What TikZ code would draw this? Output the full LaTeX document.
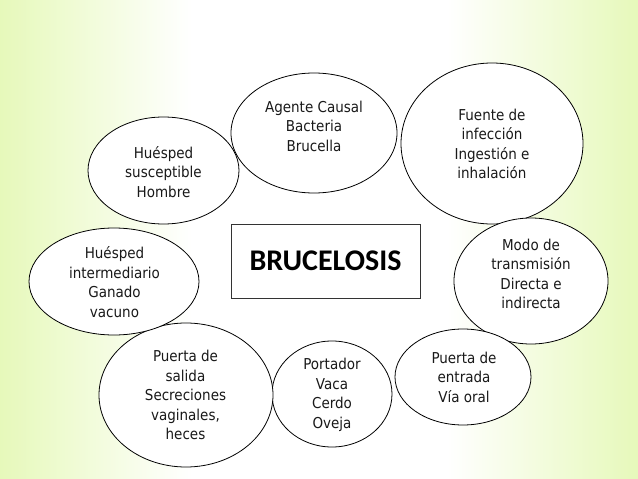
\documentclass[tikz,border=0pt]{standalone}
\usepackage{fontspec}
\setmainfont{DejaVu Sans Condensed}
\newfontfamily\titlefont{Carlito}
\usetikzlibrary{shapes.geometric}

\definecolor{limebg}{RGB}{196,240,92}
\pgfdeclarehorizontalshading{slidebg}{100bp}{color(0bp)=(limebg); color(8bp)=(limebg!90); color(24bp)=(limebg!45); color(40bp)=(white); color(60bp)=(white); color(76bp)=(limebg!45); color(92bp)=(limebg!90); color(100bp)=(limebg)}

\tikzset{bubble/.style={draw=black, line width=0.8pt, fill=white, ellipse, inner sep=0pt},
         txt/.style={align=center, text=black!90, font=\fontsize{15}{19.5}\selectfont}}

\begin{document}
\begin{tikzpicture}[x=1pt,y=-1pt]
\useasboundingbox (0,0) rectangle (638,479);

% fondo
\shade[shading=slidebg] (0,0) rectangle (638,479);

% burbujas
\node[bubble, minimum width=151pt, minimum height=107pt] (susc) at (163.5,170.5) {};
\node[txt] (susc-t) at (163.5,172) {Huésped\\susceptible\\Hombre};

\node[bubble, minimum width=166pt, minimum height=120pt] (agente) at (314,133) {};
\node[txt] (agente-t) at (314,126) {Agente Causal\\Bacteria\\Brucella};

\node[bubble, minimum width=182pt, minimum height=161pt] (fuente) at (492,143.5) {};
\node[txt] (fuente-t) at (492,144) {Fuente de\\infección\\Ingestión e\\inhalación};

\node[bubble, minimum width=154pt, minimum height=126pt] (modo) at (531,281) {};
\node[txt] (modo-t) at (531,274) {Modo de\\transmisión\\Directa e\\indirecta};

\node[bubble, minimum width=136pt, minimum height=96pt] (entrada) at (463,377) {};
\node[txt] (entrada-t) at (464,377) {Puerta de\\entrada\\Vía oral};

\node[bubble, minimum width=120pt, minimum height=106pt] (portador) at (332,394) {};
\node[txt] (portador-t) at (332,395) {Portador\\Vaca\\Cerdo\\Oveja};

\node[bubble, minimum width=174pt, minimum height=144pt] (salida) at (186,395) {};
\node[txt] (salida-t) at (185.5,395) {Puerta de\\salida\\Secreciones\\vaginales,\\heces};

\node[bubble, minimum width=170pt, minimum height=107pt] (interm) at (114,281.5) {};
\node[txt] (interm-t) at (114.5,282) {Huésped\\intermediario\\Ganado\\vacuno};

% centro
\node[draw=black!80, line width=0.8pt, fill=white, minimum width=189pt, minimum height=74pt,
      font=\titlefont\bfseries\fontsize{30}{36}\selectfont] (bruc) at (325.5,261) {BRUCELOSIS};

\end{tikzpicture}
\end{document}
